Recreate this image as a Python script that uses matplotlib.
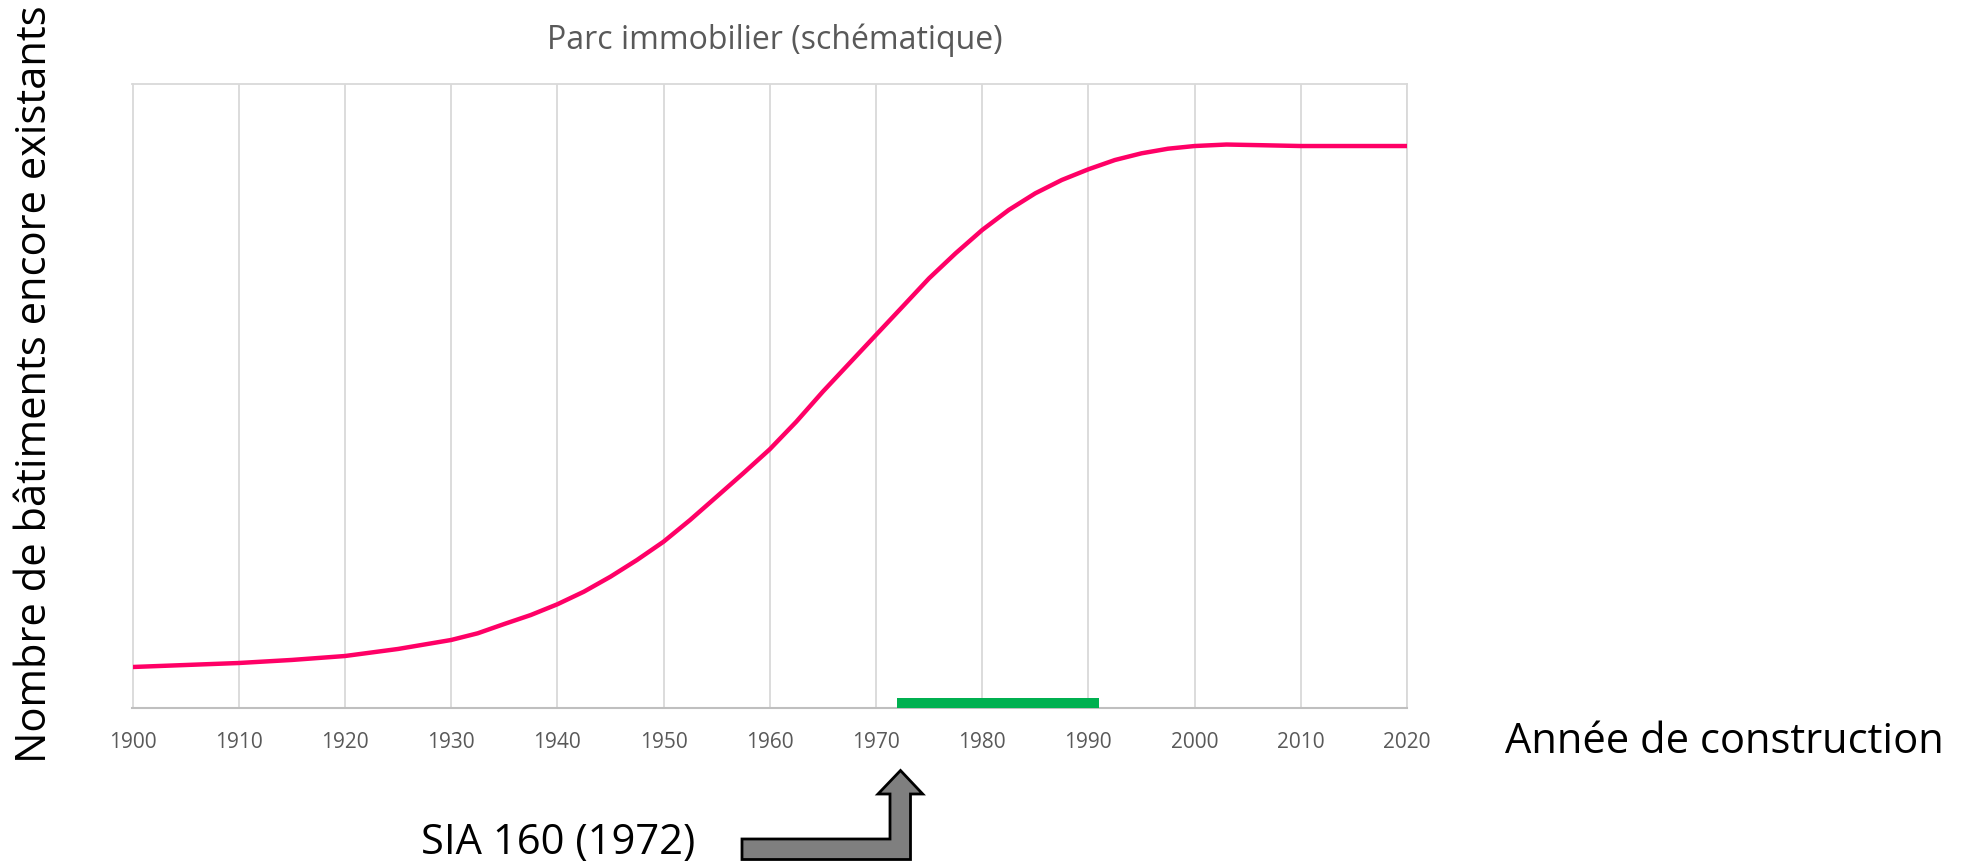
import matplotlib
matplotlib.use("Agg")
import matplotlib.pyplot as plt
from matplotlib.patches import Polygon

plt.rcParams['font.family'] = ['Open Sans', 'DejaVu Sans']

# courbe schematique (echelle arbitraire 0-100)
annees = [1900, 1910, 1915, 1920, 1925, 1930, 1932.5, 1935, 1937.5, 1940,
          1942.5, 1945, 1947.5, 1950, 1952.5, 1955, 1957.5, 1960, 1962.5,
          1965, 1967.5, 1970, 1972.5, 1975, 1977.5, 1980, 1982.5, 1985,
          1987.5, 1990, 1992.5, 1995, 1997.5, 2000, 2003, 2006, 2010, 2020]
nombre = [6.57, 7.21, 7.7, 8.33, 9.46, 10.90, 11.97, 13.46, 14.90, 16.62,
          18.64, 21.04, 23.72, 26.65, 30.13, 33.86, 37.61, 41.46, 45.88,
          50.7, 55.24, 59.78, 64.31, 68.86, 72.87, 76.60, 79.81, 82.48,
          84.62, 86.33, 87.82, 88.89, 89.63, 90.06, 90.30, 90.2, 90.06, 90.06]

# periode SIA 160
sia_debut = 1972
sia_fin = 1991

ticks = list(range(1900, 2021, 10))

W, H = 1975, 864
fig = plt.figure(figsize=(W / 100, H / 100), dpi=100)
ax = fig.add_axes([132.5 / W, 1 - 708 / H, (1407 - 132.5) / W, (708 - 84) / H])

ax.plot(annees, nombre, color='#FF0066', lw=3.2, solid_joinstyle='round', zorder=3)
ax.barh(0.8, sia_fin - sia_debut, left=sia_debut, height=1.6, color='#00B050', zorder=4)

ax.set_xlim(1900, 2020)
ax.set_ylim(0, 100)
ax.set_xticks(ticks)
ax.set_xticklabels([str(t) for t in ticks], color='#595959', fontsize=15)
ax.set_yticks([])
ax.tick_params(axis='x', length=0, pad=17)
ax.grid(axis='x', color='#D9D9D9', lw=1.3)
for s in ['top', 'left', 'right']:
    ax.spines[s].set_color('#D9D9D9')
    ax.spines[s].set_linewidth(1.3)
ax.spines['bottom'].set_color('#BFBFBF')
ax.spines['bottom'].set_linewidth(1.5)

fig.text(775 / W, 1 - 49 / H, 'Parc immobilier (schématique)', ha='center',
         va='baseline', color='#595959', fontsize=23)
fig.text(1505 / W, 1 - 753 / H, 'Année de construction', ha='left',
         va='baseline', color='black', fontsize=30)
fig.text(35 / W, 1 - 384 / H, 'Nombre de bâtiments encore existants', rotation=90,
         ha='center', va='center', color='black', fontsize=30)
fig.text(558 / W, 10 / H, 'SIA 160 (1972)', ha='center', va='baseline',
         color='black', fontsize=30)

# fleche coudee
pts = [(742, 839), (890, 839), (890, 794), (878, 794), (900.5, 770.5),
       (922.7, 794), (910.5, 794), (910.5, 859.5), (742, 859.5)]
fleche = Polygon([(x / W, 1 - y / H) for x, y in pts], closed=True,
                 transform=fig.transFigure, facecolor='#7F7F7F',
                 edgecolor='black', lw=2)
fig.patches.append(fleche)

fig.savefig('out.png', dpi=100, facecolor='white')
